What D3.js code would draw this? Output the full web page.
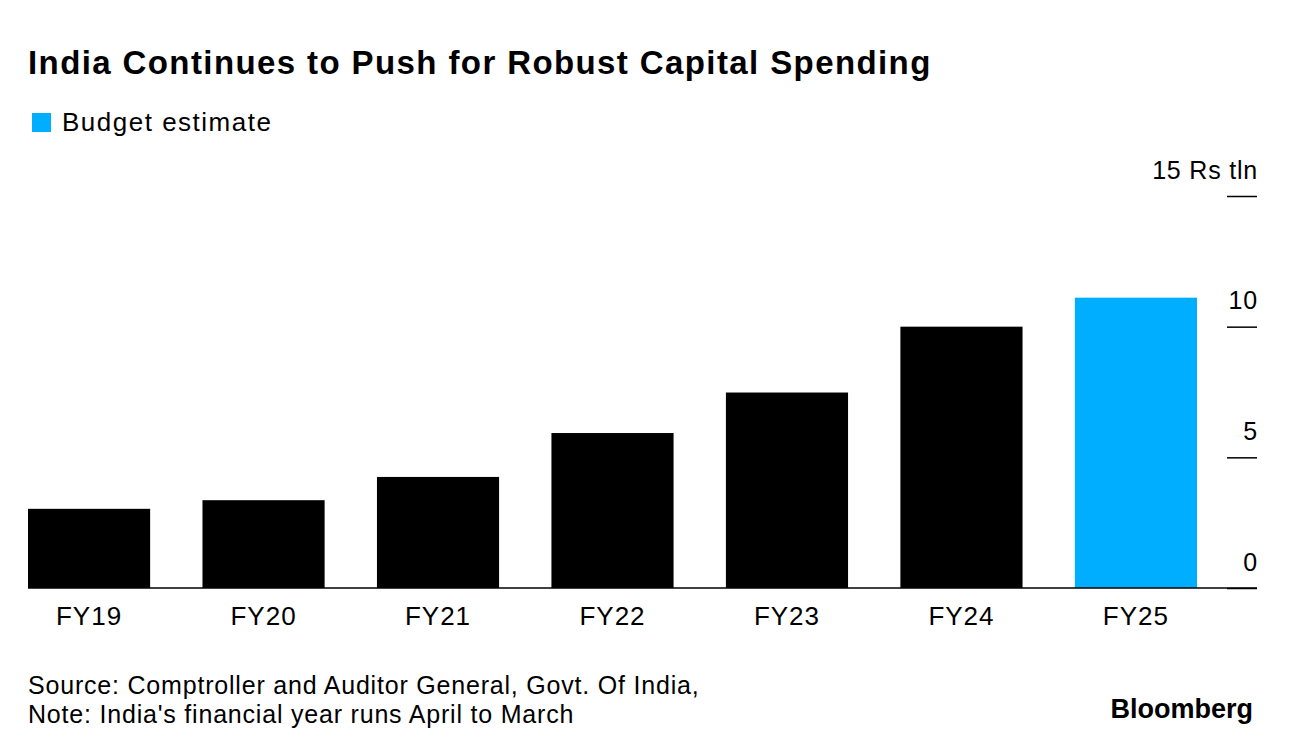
<!DOCTYPE html>
<html>
<head>
<meta charset="utf-8">
<script src="https://cdn.jsdelivr.net/npm/d3@7"></script>
<style>
  body { margin: 0; background: #fff; }
  svg text { font-family: "Liberation Sans", Arial, sans-serif; fill: #000; }
</style>
</head>
<body>
<svg id="chart" width="1292" height="754"></svg>
<script>
var years = [ 'FY19', 'FY20', 'FY21', 'FY22', 'FY23', 'FY24', 'FY25' ];
var spending = [ 3.03, 3.36, 4.25, 5.93, 7.48, 10.0, 11.11 ];
var isEstimate = [ false, false, false, false, false, false, true ];
var yTicks = [ 0, 5, 10, 15 ];

var blue = '#00aeff';

var svg = d3.select( '#chart' );

var x = d3.scaleBand()
	.domain( years )
	.range( [ 28, 1197 ] )
	.paddingInner( 0.3 )
	.paddingOuter( 0 );

var y = d3.scaleLinear()
	.domain( [ 0, 15 ] )
	.range( [ 588, 196 ] );

// title + legend
svg.append( 'text' )
	.attr( 'x', 28 )
	.attr( 'y', 74 )
	.style( 'font-size', '33px' )
	.style( 'font-weight', 'bold' )
	.style( 'letter-spacing', '1.4px' )
	.text( 'India Continues to Push for Robust Capital Spending' );

svg.append( 'rect' )
	.attr( 'x', 32 )
	.attr( 'y', 113 )
	.attr( 'width', 19 )
	.attr( 'height', 19 )
	.style( 'fill', blue );

svg.append( 'text' )
	.attr( 'x', 62 )
	.attr( 'y', 131 )
	.style( 'font-size', '26px' )
	.style( 'letter-spacing', '1.5px' )
	.text( 'Budget estimate' );

// bars
svg.selectAll( 'rect.bar' )
	.data( years )
	.enter()
	.append( 'rect' )
	.classed( 'bar', true )
	.attr( 'x', function ( d ) { return x( d ); } )
	.attr( 'y', function ( d, i ) { return y( spending[i] ); } )
	.attr( 'width', x.bandwidth() )
	.attr( 'height', function ( d, i ) { return y( 0 ) - y( spending[i] ); } )
	.style( 'fill', function ( d, i ) { return isEstimate[i] ? blue : '#000'; } );

// baseline
svg.append( 'line' )
	.attr( 'x1', 28 )
	.attr( 'x2', 1257 )
	.attr( 'y1', y( 0 ) )
	.attr( 'y2', y( 0 ) )
	.style( 'stroke', '#000' )
	.style( 'stroke-width', 1.5 );

// y axis on the right
var yAxis = svg.append( 'g' )
	.attr( 'transform', 'translate(1257,0)' )
	.call( d3.axisLeft( y ).tickValues( yTicks ).tickSize( 30 ).tickFormat( function ( d ) {
		return d === 15 ? '15 Rs tln' : d;
	} ) );

yAxis.select( '.domain' ).remove();
yAxis.selectAll( '.tick line' ).style( 'stroke', '#000' ).style( 'stroke-width', 1.5 );
yAxis.selectAll( '.tick text' )
	.attr( 'x', 1 )
	.attr( 'dy', '-18px' )
	.attr( 'text-anchor', 'end' )
	.style( 'font-size', '25px' )
	.style( 'letter-spacing', '0.8px' )
	.style( 'font-family', '"Liberation Sans", Arial, sans-serif' );

// x labels
svg.selectAll( 'text.xlabel' )
	.data( years )
	.enter()
	.append( 'text' )
	.classed( 'xlabel', true )
	.attr( 'x', function ( d ) { return x( d ) + x.bandwidth() / 2; } )
	.attr( 'y', 625 )
	.attr( 'text-anchor', 'middle' )
	.style( 'font-size', '26px' )
	.style( 'letter-spacing', '1px' )
	.text( function ( d ) { return d; } );

// footer
svg.append( 'text' )
	.attr( 'x', 28 )
	.attr( 'y', 694 )
	.style( 'font-size', '25px' )
	.style( 'letter-spacing', '0.8px' )
	.text( 'Source: Comptroller and Auditor General, Govt. Of India,' );

svg.append( 'text' )
	.attr( 'x', 28 )
	.attr( 'y', 723 )
	.style( 'font-size', '25px' )
	.style( 'letter-spacing', '0.8px' )
	.text( "Note: India's financial year runs April to March" );

svg.append( 'text' )
	.attr( 'x', 1253 )
	.attr( 'y', 718 )
	.attr( 'text-anchor', 'end' )
	.style( 'font-size', '27px' )
	.style( 'font-weight', 'bold' )
	.text( 'Bloomberg' );
</script>
</body>
</html>
